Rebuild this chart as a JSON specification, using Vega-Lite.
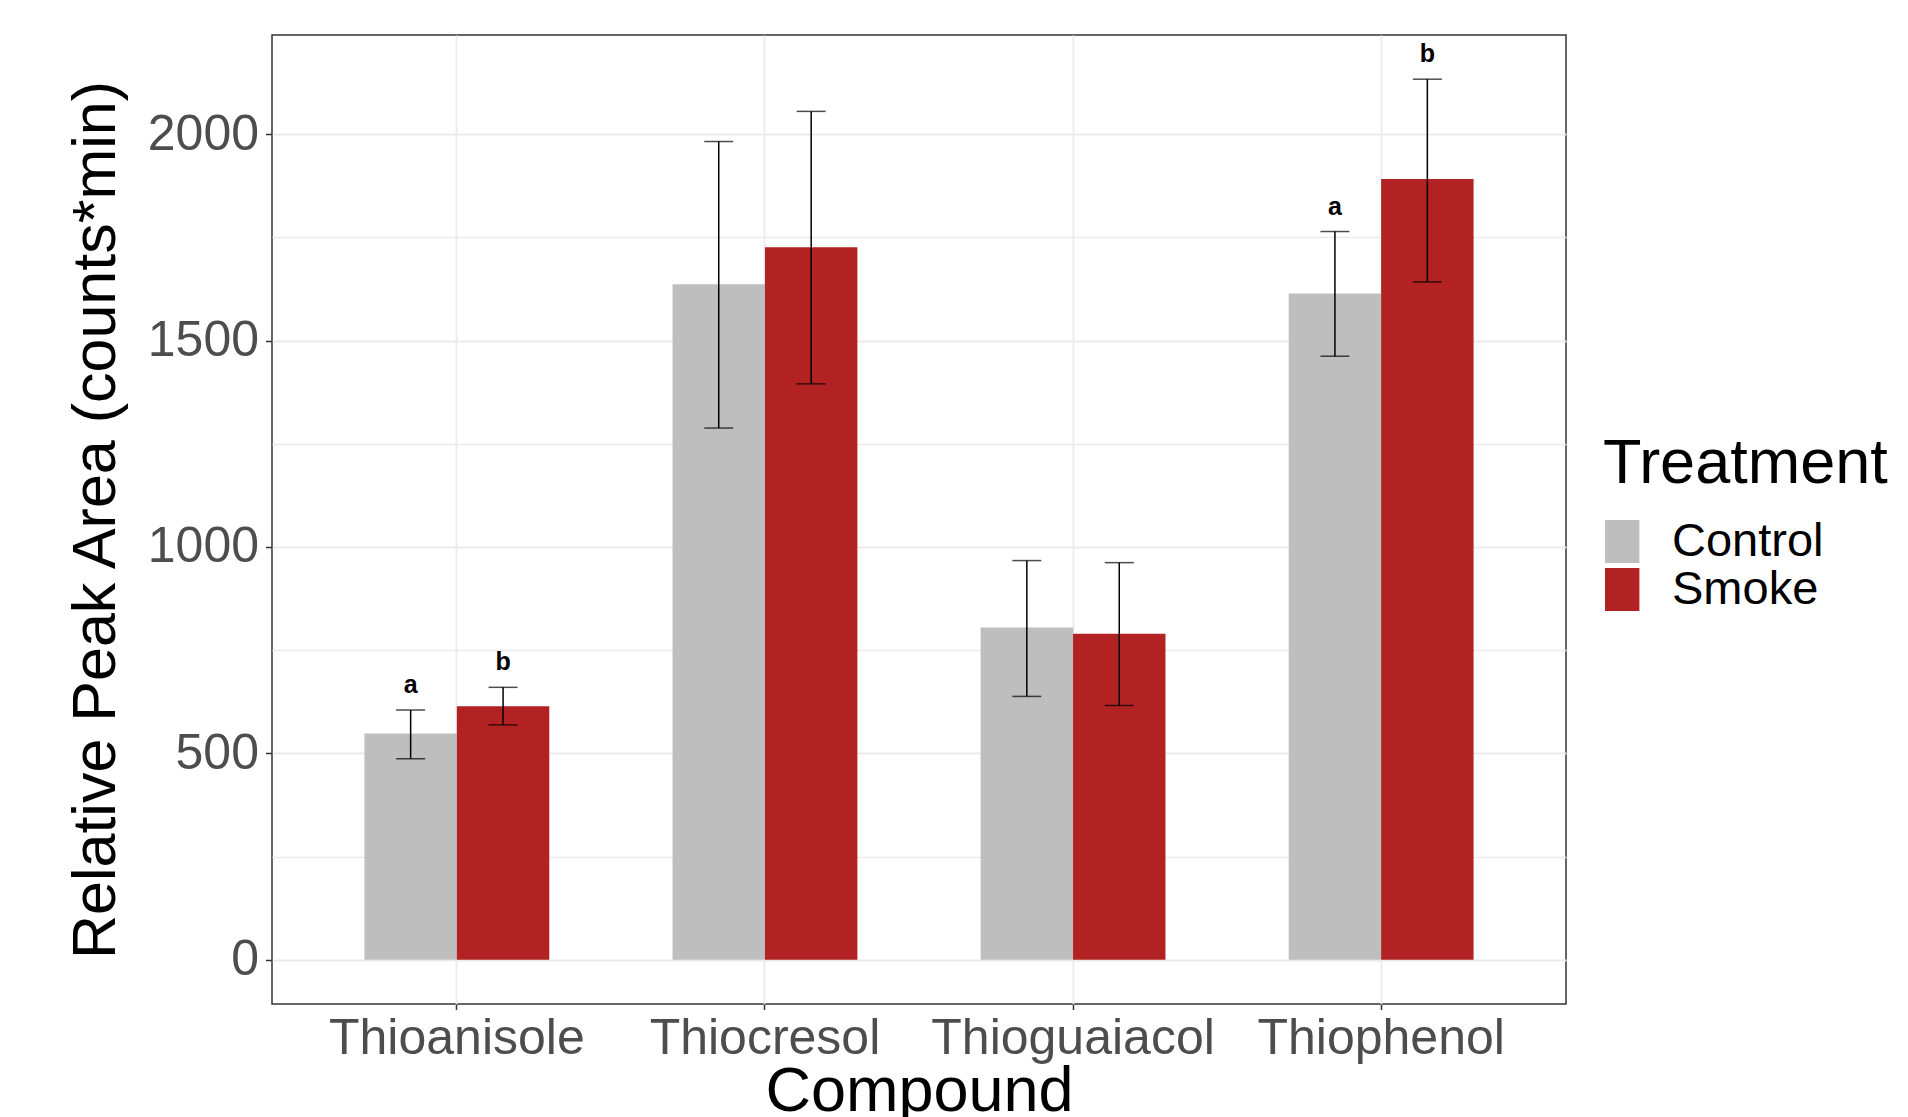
{
  "$schema": "https://vega.github.io/schema/vega-lite/v6.json",
  "autosize": {"type": "none"},
  "padding": {"left": 272, "top": 35, "right": 342, "bottom": 113},
  "width": 1294,
  "height": 969,
  "background": "white",
  "data": {
    "values": [
      {"Compound": "Thioanisole", "Treatment": "Control", "mean": 548, "lo": 487, "hi": 605, "sig": "a"},
      {"Compound": "Thioanisole", "Treatment": "Smoke", "mean": 614, "lo": 569, "hi": 660, "sig": "b"},
      {"Compound": "Thiocresol", "Treatment": "Control", "mean": 1636, "lo": 1288, "hi": 1982, "sig": ""},
      {"Compound": "Thiocresol", "Treatment": "Smoke", "mean": 1726, "lo": 1395, "hi": 2055, "sig": ""},
      {"Compound": "Thioguaiacol", "Treatment": "Control", "mean": 805, "lo": 638, "hi": 967, "sig": ""},
      {"Compound": "Thioguaiacol", "Treatment": "Smoke", "mean": 790, "lo": 616, "hi": 962, "sig": ""},
      {"Compound": "Thiophenol", "Treatment": "Control", "mean": 1614, "lo": 1462, "hi": 1764, "sig": "a"},
      {"Compound": "Thiophenol", "Treatment": "Smoke", "mean": 1891, "lo": 1642, "hi": 2133, "sig": "b"}
    ]
  },
  "encoding": {
    "x": {
      "field": "Compound", "type": "nominal",
      "scale": {"paddingInner": 0.4, "paddingOuter": 0.3},
      "axis": {
        "title": "Compound", "labelAngle": 0, "grid": true, "gridColor": "#EBEBEB", "gridWidth": 1.8,
        "domain": false, "tickColor": "#333333", "tickWidth": 1.5, "tickSize": 5.5,
        "labelFont": "Liberation Sans", "labelFontSize": 50, "labelColor": "#4D4D4D", "labelPadding": 4, "labelLimit": 0,
        "titleFont": "Liberation Sans", "titleFontSize": 63, "titleFontWeight": "normal", "titleColor": "black", "titlePadding": -3
      }
    },
    "xOffset": {"field": "Treatment", "type": "nominal", "scale": {"paddingInner": 0, "paddingOuter": 0}}
  },
  "layer": [
    {
      "mark": {"type": "bar"},
      "encoding": {
        "y": {
          "field": "mean", "type": "quantitative",
          "scale": {"domain": [-107, 2240], "nice": false, "zero": false},
          "axis": {
            "title": "Relative Peak Area (counts*min)",
            "values": [0, 250, 500, 750, 1000, 1250, 1500, 1750, 2000],
            "format": "d",
            "labelExpr": "datum.value % 500 === 0 ? datum.label : ''",
            "tickColor": {"condition": {"test": "datum.value % 500 === 0", "value": "#333333"}, "value": "transparent"},
            "tickWidth": 1.5, "tickSize": 6.5,
            "grid": true, "gridColor": "#EBEBEB",
            "gridWidth": {"condition": {"test": "datum.value % 500 === 0", "value": 1.8}, "value": 1.4},
            "domain": false,
            "labelFont": "Liberation Sans", "labelFontSize": 50, "labelColor": "#4D4D4D", "labelPadding": 7,
            "titleFont": "Liberation Sans", "titleFontSize": 61, "titleFontWeight": "normal", "titleColor": "black", "titlePadding": 20
          }
        },
        "color": {
          "field": "Treatment", "type": "nominal",
          "scale": {"domain": ["Control", "Smoke"], "range": ["#BEBEBE", "#B22222"]},
          "legend": {
            "orient": "none", "legendX": 1331, "legendY": 398,
            "title": "Treatment", "titleFont": "Liberation Sans", "titleFontSize": 63, "titleFontWeight": "normal", "titleColor": "black", "titlePadding": 22, "titleLimit": 0,
            "labelFont": "Liberation Sans", "labelFontSize": 47, "labelColor": "black", "labelOffset": 22, "labelLimit": 0,
            "symbolType": "M-1,-1H0.6V1H-1Z", "symbolSize": 1849, "symbolStrokeWidth": 0, "symbolOpacity": 1,
            "rowPadding": 0
          }
        }
      }
    },
    {
      "mark": {"type": "rule", "color": "black", "strokeWidth": 1.5},
      "encoding": {"y": {"field": "lo", "type": "quantitative"}, "y2": {"field": "hi"}}
    },
    {
      "mark": {"type": "tick", "color": "black", "thickness": 1.5, "size": 29, "orient": "horizontal"},
      "encoding": {"y": {"field": "lo", "type": "quantitative"}}
    },
    {
      "mark": {"type": "tick", "color": "black", "thickness": 1.5, "size": 29, "orient": "horizontal"},
      "encoding": {"y": {"field": "hi", "type": "quantitative"}}
    },
    {
      "mark": {"type": "text", "font": "Liberation Sans", "fontWeight": "bold", "fontSize": 25, "color": "black", "baseline": "alphabetic", "dy": -17},
      "encoding": {"y": {"field": "hi", "type": "quantitative"}, "text": {"field": "sig"}}
    }
  ],
  "config": {
    "view": {"stroke": "#333333", "strokeWidth": 1.5}
  }
}
